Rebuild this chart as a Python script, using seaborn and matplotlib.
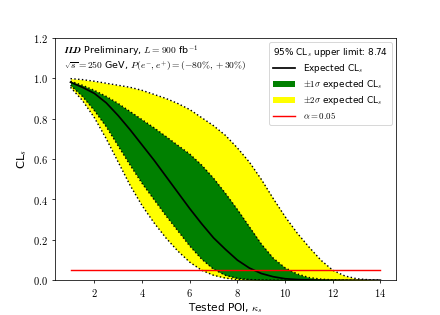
import matplotlib
matplotlib.use("Agg")
import matplotlib.pyplot as plt
import seaborn as sns
import numpy as np
from matplotlib.ticker import FuncFormatter
from matplotlib.lines import Line2D
from matplotlib.patches import Patch

# Tested POI values
poi = [1.0, 1.5, 2.0, 2.5, 3.0, 3.5, 4.0, 4.5, 5.0, 5.5, 6.0, 6.5, 7.0,
       7.5, 8.0, 8.5, 9.0, 9.5, 10.0, 10.5, 11.0, 11.5, 12.0, 12.5, 13.0,
       13.5, 14.0]

cls_median = [0.98, 0.955, 0.925, 0.878, 0.815, 0.745, 0.67, 0.595, 0.515,
              0.435, 0.355, 0.28, 0.21, 0.153, 0.100, 0.061, 0.034, 0.018,
              0.008, 0.004, 0.002, 0.001, 0.0005, 0.0002, 0.0001, 0.0, 0.0]
cls_p1 = [0.985, 0.965, 0.94, 0.91, 0.875, 0.835, 0.795, 0.755, 0.712,
          0.668, 0.625, 0.57, 0.505, 0.43, 0.35, 0.265, 0.18, 0.11, 0.062,
          0.032, 0.014, 0.006, 0.0025, 0.001, 0.0005, 0.0002, 0.0]
cls_p2 = [0.998, 0.993, 0.985, 0.975, 0.965, 0.955, 0.94, 0.92, 0.90, 0.875,
          0.845, 0.805, 0.765, 0.717, 0.655, 0.585, 0.50, 0.405, 0.315, 0.235,
          0.165, 0.10, 0.05, 0.022, 0.008, 0.003, 0.001]
cls_m1 = [0.965, 0.91, 0.84, 0.76, 0.665, 0.57, 0.48, 0.40, 0.32, 0.245,
          0.17, 0.105, 0.055, 0.025, 0.01, 0.004, 0.0015, 0.0005, 0.0002,
          0.0, 0.0, 0.0, 0.0, 0.0, 0.0, 0.0, 0.0]
cls_m2 = [0.955, 0.89, 0.805, 0.70, 0.585, 0.47, 0.37, 0.285, 0.21, 0.145,
          0.09, 0.05, 0.025, 0.011, 0.004, 0.0015, 0.0005, 0.0, 0.0, 0.0,
          0.0, 0.0, 0.0, 0.0, 0.0, 0.0, 0.0]
alpha_level = 0.05
upper_limit = 8.74

plt.rcParams['mathtext.fontset'] = 'cm'
plt.rcParams['font.family'] = ['DejaVu Sans']

fig, ax = plt.subplots(figsize=(6.4, 4.582), dpi=68.75)

ax.fill_between(poi, cls_m2, cls_p2, color='yellow', lw=0)
ax.fill_between(poi, cls_m1, cls_p1, color='green', lw=0)
for band in (cls_p2, cls_p1, cls_m1, cls_m2):
    sns.lineplot(x=poi, y=band, color='black', linestyle=':', lw=1.5, ax=ax)
sns.lineplot(x=poi, y=cls_median, color='black', lw=1.8, ax=ax)
sns.lineplot(x=[poi[0], poi[-1]], y=[alpha_level, alpha_level], color='red',
             lw=1.5, ax=ax)

ax.set_ylim(0, 1.2)
ax.set_xticks([2, 4, 6, 8, 10, 12, 14])
ax.set_yticks([0.0, 0.2, 0.4, 0.6, 0.8, 1.0, 1.2])
ax.xaxis.set_major_formatter(FuncFormatter(lambda v, p: f"${v:.0f}$"))
ax.yaxis.set_major_formatter(FuncFormatter(lambda v, p: f"${v:.1f}$"))
ax.tick_params(labelsize=11)

ax.set_xlabel(r"Tested POI, $\kappa_s$", fontsize=11, labelpad=2)
ax.set_ylabel(r"CL$_s$", fontsize=12)

header = (r"$\boldsymbol{ILD}$ Preliminary, $L = 900$ fb$^{-1}$" + "\n" +
          r"$\sqrt{s} = 250$ GeV, $P(e^{-}, e^{+}) = (-80\%, +30\%)$")
ax.text(0.026, 0.975, header, transform=ax.transAxes, ha='left', va='top',
        fontsize=10, linespacing=1.0)

handles = [Line2D([], [], color='black', lw=1.8),
           Patch(facecolor='green'),
           Patch(facecolor='yellow'),
           Line2D([], [], color='red', lw=1.5)]
labels = [r"Expected CL$_s$", r"$\pm1\sigma$ expected CL$_s$",
          r"$\pm2\sigma$ expected CL$_s$", r"$\alpha = 0.05$"]
leg = ax.legend(handles, labels, loc='upper right', fontsize=9.3,
                title=f"95% CL$_s$ upper limit: {upper_limit}",
                title_fontsize=9.3, alignment='left', labelspacing=0.35,
                handlelength=2.5, handletextpad=0.9)

fig.savefig("out.png", dpi=68.75)
